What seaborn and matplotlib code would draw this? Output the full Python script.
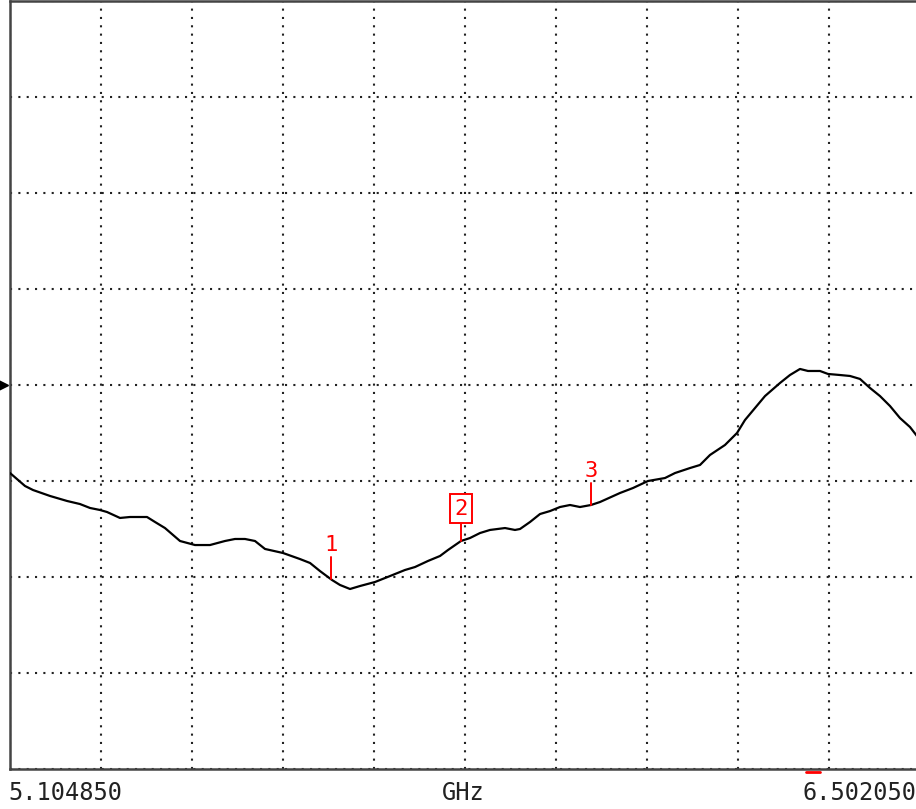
import numpy as np
import matplotlib
matplotlib.use("Agg")
import matplotlib.pyplot as plt
import matplotlib.transforms as mtransforms
import seaborn as sns

# trace, 1 dB/div, reference line at 0 dB
freq_ghz = [
    5.1049, 5.1279, 5.1402, 5.1663, 5.1924, 5.2123, 5.2277, 5.2430, 5.2538, 5.2737,
    5.2891, 5.3152, 5.3275, 5.3428, 5.3659, 5.3889, 5.4119, 5.4349, 5.4503, 5.4657,
    5.4810, 5.4964, 5.5240, 5.5501, 5.5655, 5.5808, 5.5992, 5.6115, 5.6269, 5.6422,
    5.6653, 5.6883, 5.7113, 5.7267, 5.7466, 5.7651, 5.7773, 5.7973, 5.8111, 5.8265,
    5.8418, 5.8649, 5.8802, 5.8879, 5.9033, 5.9186, 5.9340, 5.9493, 5.9647, 5.9800,
    5.9969, 6.0107, 6.0414, 6.0614, 6.0844, 6.1105, 6.1259, 6.1489, 6.1643, 6.1796,
    6.2026, 6.2211, 6.2333, 6.2487, 6.2641, 6.2871, 6.3024, 6.3178, 6.3301, 6.3485,
    6.3608, 6.3792, 6.3946, 6.4099, 6.4253, 6.4406, 6.4560, 6.4713, 6.4867, 6.5021,
]
level_db = [
    -0.917, -1.052, -1.094, -1.156, -1.208, -1.240, -1.281, -1.302, -1.323, -1.385,
    -1.375, -1.375, -1.427, -1.490, -1.625, -1.667, -1.667, -1.625, -1.604, -1.604,
    -1.625, -1.708, -1.750, -1.813, -1.854, -1.938, -2.031, -2.083, -2.125, -2.094,
    -2.052, -1.990, -1.927, -1.896, -1.833, -1.781, -1.719, -1.625, -1.594, -1.542,
    -1.510, -1.490, -1.510, -1.500, -1.427, -1.344, -1.313, -1.271, -1.250, -1.271,
    -1.250, -1.219, -1.125, -1.073, -1.000, -0.969, -0.917, -0.865, -0.833, -0.729,
    -0.625, -0.500, -0.365, -0.240, -0.115, 0.021, 0.104, 0.167, 0.146, 0.146,
    0.115, 0.104, 0.094, 0.063, -0.031, -0.115, -0.219, -0.344, -0.438, -0.573,
]
marker_names = ["1", "2", "3"]
marker_freq = [5.5977, 5.7973, 5.9969]
active_marker = "2"

start_label = "5.104850"
stop_label = "6.502050"
unit_label = "GHz"
f_start, f_stop = 5.104850, 6.502050
ref_level = 0.0
db_per_div = 1.0
n_xdiv, n_ydiv = 10, 8
extra_marker_freq = 6.3378

sns.set_theme(style="white")
plt.rcParams["font.family"] = ["DejaVu Sans Mono", "DejaVu Sans"]

W, H = 916, 809
fig = plt.figure(figsize=(W / 100, H / 100), dpi=100)
fig.patch.set_facecolor("white")
ax = fig.add_axes([10 / W, 40 / H, 910 / W, 768 / H])

sns.lineplot(x=freq_ghz, y=level_db, ax=ax, color="black", linewidth=1.6, zorder=3)

y_lo = ref_level - db_per_div * n_ydiv / 2
y_hi = ref_level + db_per_div * n_ydiv / 2
ax.set_xlim(f_start, f_stop)
ax.set_ylim(y_lo, y_hi)
ax.set_xticks(np.linspace(f_start, f_stop, n_xdiv + 1))
ax.set_yticks(np.linspace(y_lo, y_hi, n_ydiv + 1))
ax.tick_params(length=0, labelbottom=False, labelleft=False)
ax.grid(True, color="#222222", linestyle=(0, (1, 3)), linewidth=1.5)
ax.set_xlabel("")
ax.set_ylabel("")
for side, sp in ax.spines.items():
    sp.set_color("#444444")
    sp.set_linewidth(1.8)
    sp.set_visible(True)

# markers
stem = 0.23 * db_per_div
for name, f in zip(marker_names, marker_freq):
    v = np.interp(f, freq_ghz, level_db)
    ax.plot([f, f], [v, v + stem], color="red", linewidth=1.4, zorder=4)
    if name == active_marker:
        ax.text(f, v + stem, name, color="red", fontsize=16, ha="center", va="bottom",
                bbox=dict(boxstyle="square,pad=0.2", fc="white", ec="red", lw=1.4), zorder=5)
    else:
        ax.text(f, v + stem + 0.02, name, color="red", fontsize=16, ha="center", va="bottom", zorder=5)

# reference arrow on the left and small red marker under the axis
tr = mtransforms.blended_transform_factory(ax.transAxes, ax.transData)
ax.plot([-7 / 910], [ref_level], marker=">", color="black", markersize=7,
        transform=tr, clip_on=False)
trb = mtransforms.blended_transform_factory(ax.transData, ax.transAxes)
ax.plot([extra_marker_freq - 0.011, extra_marker_freq + 0.011], [-3 / 768, -3 / 768],
        color="red", linewidth=2, transform=trb, clip_on=False, zorder=6)

ty = 1 - 793 / H
fig.text(8 / W, ty, start_label, fontsize=17, color="#222222", ha="left", va="center")
fig.text(463 / W, ty, unit_label, fontsize=17, color="#222222", ha="center", va="center")
fig.text(916 / W, ty, stop_label, fontsize=17, color="#222222", ha="right", va="center")

fig.savefig("out.png", dpi=100, facecolor="white")
